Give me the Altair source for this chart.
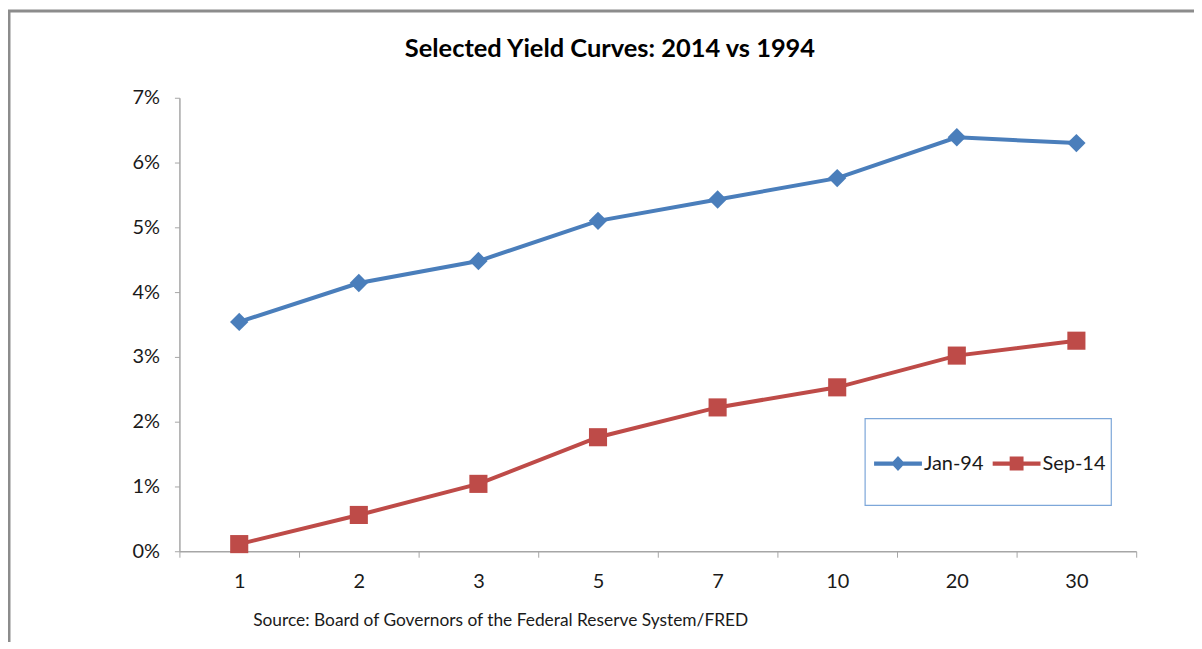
import altair as alt
import pandas as pd

tenors = ["1", "2", "3", "5", "7", "10", "20", "30"]
jan94 = [3.54, 4.14, 4.48, 5.10, 5.43, 5.76, 6.39, 6.30]
sep14 = [0.11, 0.56, 1.04, 1.76, 2.22, 2.53, 3.02, 3.25]
series = ["Jan-94", "Sep-14"]
colors = ["#4A7EBB", "#BE4B48"]
title_text = "Selected Yield Curves: 2014 vs 1994"
source_text = "Source: Board of Governors of the Federal Reserve System/FRED"
y_ticks = [0, 0.01, 0.02, 0.03, 0.04, 0.05, 0.06, 0.07]

W, H = 960, 455
FONT = "Lato"
PL, PT = 172, 89

df_jan = pd.DataFrame({"tenor": tenors, "yield": [v / 100 for v in jan94], "series": series[0]})
df_sep = pd.DataFrame({"tenor": tenors, "yield": [v / 100 for v in sep14], "series": series[1]})
one = pd.DataFrame({"a": [0]})

x_enc = alt.X(
    "tenor:N",
    sort=tenors,
    scale=alt.Scale(type="band", paddingInner=0, paddingOuter=0),
    axis=alt.Axis(
        title=None, labelAngle=0, tickBand="extent", grid=False,
        domainColor="#A6A6A6", tickColor="#A6A6A6", tickSize=6, domainWidth=1.5,
        labelFont=FONT, labelFontSize=20, labelColor="#1a1a1a", labelPadding=14,
    ),
)
y_enc = alt.Y(
    "yield:Q",
    scale=alt.Scale(domain=[0, 0.07], nice=False),
    axis=alt.Axis(
        title=None, format=".0%", values=y_ticks, grid=False,
        domainColor="#A6A6A6", tickColor="#A6A6A6", tickSize=5, domainWidth=1.5,
        labelFont=FONT, labelFontSize=20, labelColor="#1a1a1a", labelPadding=15,
    ),
)

diamond_path = "M-1,-0.09L1,-0.09L1,0.09L-1,0.09Z M-0.29,0L0,-0.31L0.29,0L0,0.31Z"
square_path = "M-1,-0.09L1,-0.09L1,0.09L-1,0.09Z M-0.29,-0.29L0.29,-0.29L0.29,0.29L-0.29,0.29Z"


def make_legend(path, lx):
    return alt.Legend(
        title=None, orient="none", legendX=lx, legendY=343, direction="horizontal",
        labelFont=FONT, labelFontSize=20, labelColor="#1a1a1a", labelOffset=2,
        symbolSize=2304, symbolStrokeWidth=0, symbolType=path, symbolOpacity=1, padding=0,
    )


frame_left = alt.Chart(one).mark_rule(color="#8C8C8C", strokeWidth=3).encode(
    x=alt.value(-PL + 1), y=alt.value(-PT + 2), y2=alt.value(H + 120)
)
frame_top = alt.Chart(one).mark_rule(color="#8C8C8C", strokeWidth=3).encode(
    x=alt.value(-PL), x2=alt.value(W + 120), y=alt.value(-PT + 2)
)
legend_box = alt.Chart(one).mark_rect(fill="white", stroke="#7DA7D9", strokeWidth=1.2).encode(
    x=alt.value(688), x2=alt.value(935), y=alt.value(322), y2=alt.value(409)
)

line_jan = alt.Chart(df_jan).mark_line(strokeWidth=4, color=colors[0]).encode(x=x_enc, y=y_enc)
line_sep = alt.Chart(df_sep).mark_line(strokeWidth=4, color=colors[1]).encode(x=x_enc, y=y_enc)

pts_jan = alt.Chart(df_jan).mark_point(filled=True, shape="diamond", size=340, opacity=1, strokeWidth=0).encode(
    x=x_enc, y=y_enc,
    color=alt.Color("series:N", scale=alt.Scale(domain=[series[0]], range=[colors[0]]),
                    legend=make_legend(diamond_path, 697)),
)
pts_sep = alt.Chart(df_sep).mark_point(filled=True, shape="square", size=330, opacity=1, strokeWidth=0).encode(
    x=x_enc, y=y_enc,
    fill=alt.Fill("series:N", scale=alt.Scale(domain=[series[1]], range=[colors[1]]),
                  legend=make_legend(square_path, 816)),
)

title = alt.Chart(one).mark_text(
    text=title_text, font=FONT, fontSize=25.5, fontWeight="bold", color="black",
    align="center", baseline="alphabetic",
).encode(x=alt.value(432), y=alt.value(-41))

source = alt.Chart(one).mark_text(
    text=source_text, font=FONT, fontSize=17.4, color="#1a1a1a",
    align="left", baseline="alphabetic",
).encode(x=alt.value(74), y=alt.value(530))

chart = alt.layer(
    frame_left, frame_top, legend_box, line_jan, line_sep, pts_jan, pts_sep, title, source
).properties(
    width=W, height=H,
    autosize=alt.AutoSizeParams(type="none"),
    padding={"left": PL, "top": PT, "right": 58, "bottom": 90},
    background="white",
).configure_view(stroke="transparent")

chart.save("out.html", embed_options={"renderer": "svg", "actions": False})
